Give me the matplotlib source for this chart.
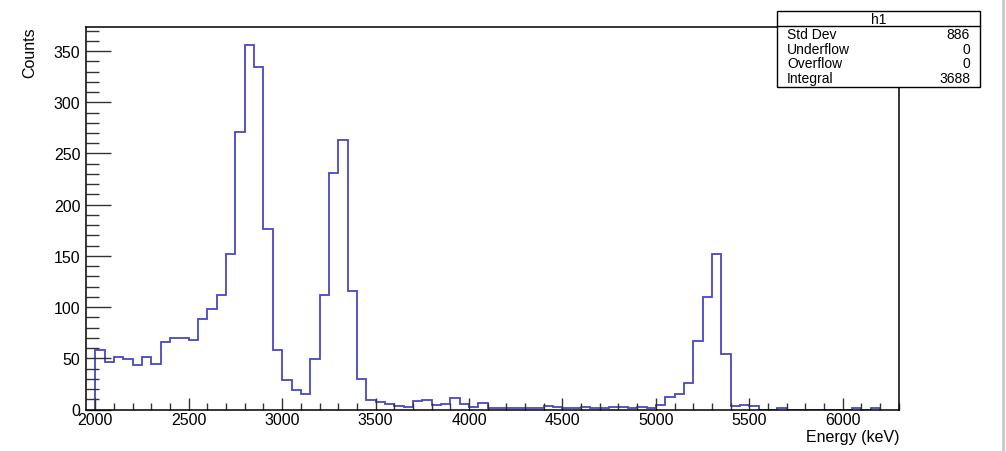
import numpy as np
import matplotlib
matplotlib.use("Agg")
import matplotlib.pyplot as plt
from matplotlib.patches import Rectangle
from matplotlib.lines import Line2D

plt.rcParams['font.family'] = ['Liberation Sans', 'DejaVu Sans']

# bin edges (keV) and counts
bin_lo = 2000
bin_hi = 6200
bin_w = 50
counts = [58, 46, 51, 49, 43, 51, 44, 66,
          70, 70, 68, 88, 98, 112, 152, 271,
          356, 334, 176, 58, 29, 19, 15, 49,
          112, 231, 263, 116, 30, 9, 7, 5,
          3, 2, 8, 9, 4, 5, 11, 5,
          2, 6, 1, 1, 1, 1, 1, 1,
          3, 2, 1, 1, 2, 1, 1, 2,
          2, 1, 2, 1, 4, 12, 15, 26,
          67, 110, 152, 54, 3, 4, 3, 0,
          0, 1, 0, 0, 0, 0, 0, 0,
          0, 1, 0, 1]
edges = np.arange(bin_lo, bin_hi + bin_w, bin_w)

stat_names = ["Std Dev", "Underflow", "Overflow", "Integral"]
stat_vals = ["886", "0", "0", "3688"]

W, H = 1006, 452
fig = plt.figure(figsize=(W / 100, H / 100), dpi=100)
ax = fig.add_axes([86 / W, 1 - 410.5 / H, (899.3 - 86) / W, (410.5 - 27.5) / H])

ax.stairs(counts, edges, color='#4848c8', linewidth=1.3)

ax.set_xlim(1950, 6303)
ax.set_ylim(0, 374)

ax.set_xticks(np.arange(2000, 6001, 500))
ax.set_xticks(np.arange(2000, 6301, 100), minor=True)
ax.set_yticks(np.arange(0, 351, 50))
ax.set_yticks(np.arange(0, 371, 10), minor=True)

ax.tick_params(axis='x', which='major', direction='in', length=9, width=1, color='#333333',
               labelsize=11.5, pad=2)
ax.tick_params(axis='x', which='minor', direction='in', length=5, width=1, color='#333333')
ax.tick_params(axis='y', which='major', direction='in', length=18, width=1, color='#333333',
               labelsize=11.5, pad=4)
ax.tick_params(axis='y', which='minor', direction='in', length=9, width=1, color='#333333')

for s in ax.spines.values():
    s.set_linewidth(1.1)
    s.set_color('black')

ax.set_xlabel("Energy (keV)", loc='right', fontsize=11.5, labelpad=1)
ax.set_ylabel("Counts", loc='top', fontsize=11.5, labelpad=12)

# stats box
bx0, bx1 = 777.3, 980
by0, by1, bsep = 12.3, 87.7, 26.7
fig.add_artist(Rectangle((bx0 / W, 1 - by1 / H), (bx1 - bx0) / W, (by1 - by0) / H,
                         transform=fig.transFigure, facecolor='white', edgecolor='black',
                         linewidth=1, zorder=10))
fig.add_artist(Line2D([bx0 / W, bx1 / W], [1 - bsep / H, 1 - bsep / H],
                      transform=fig.transFigure, color='black', linewidth=1, zorder=11))
fig.text((bx0 + bx1) / 2 / W, 1 - 19.5 / H, "h1", ha='center', va='center', fontsize=10, zorder=12)
row_y = [35, 50, 64.5, 79]
for name, val, yy in zip(stat_names, stat_vals, row_y):
    fig.text(787 / W, 1 - yy / H, name, ha='left', va='center', fontsize=10, zorder=12)
    fig.text(970 / W, 1 - yy / H, val, ha='right', va='center', fontsize=10, zorder=12)

# canvas border on the right
fig.add_artist(Line2D([1003 / W, 1003 / W], [0, 1], transform=fig.transFigure,
                      color='#c8c8c8', linewidth=2))

plt.savefig("out.png", dpi=100)
